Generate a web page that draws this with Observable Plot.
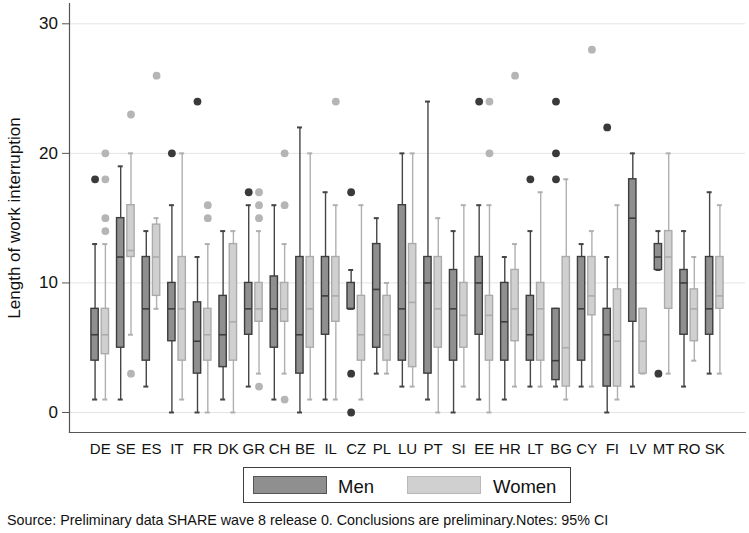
<!DOCTYPE html>
<html>
<head>
<meta charset="utf-8">
<script src="https://cdn.jsdelivr.net/npm/d3@7"></script>
<script src="https://cdn.jsdelivr.net/npm/@observablehq/plot@0.6"></script>
<style>
  html, body { margin: 0; padding: 0; background: #fff; }
  #wrap { position: relative; width: 749px; height: 533px; font-family: "Liberation Sans", Arial, Helvetica, sans-serif; color: #111; }
  #chart { position: absolute; left: 0; top: 0; }
  #legend { position: absolute; left: 243px; top: 467px; width: 328px; height: 36px; border: 1.3px solid #3e3e3e; box-sizing: border-box; }
  .sw { position: absolute; top: 8px; width: 74px; height: 18px; box-sizing: border-box; }
  .lt { position: absolute; top: 9.5px; font-size: 18.5px; line-height: 18.5px; white-space: nowrap; }
  #caption { position: absolute; left: 7px; top: 513px; font-size: 14.3px; line-height: 14.5px; white-space: nowrap; }
</style>
</head>
<body>
<div id="wrap">
  <div id="chart"></div>
  <div id="legend"></div>
  <div id="caption"></div>
</div>
<script>
// ---- data ----
const countries = ["DE","SE","ES","IT","FR","DK","GR","CH","BE","IL","CZ","PL","LU","PT","SI","EE","HR","LT","BG","CY","FI","LV","MT","RO","SK"];

// Men: lower whisker, Q1, median, Q3, upper whisker
const menLow  = [1, 1, 2, 0, 0,   1,   2, 1,    0, 1, 8, 3,   2, 1,  0, 1,  1, 2, 2,   2, 0, 2,  11, 2, 3];
const menQ1   = [4, 5, 4, 5.5, 3, 3.5, 6, 5,    3, 6, 8, 5,   4, 3,  4, 6,  4, 4, 2.5, 4, 2, 7,  11, 6, 6];
const menMed  = [6, 12, 8, 8, 5.5, 6,  8, 8,    6, 9, 8, 9.5, 8, 10, 8, 10, 7, 6, 4,   8, 6, 15, 12, 10, 8];
const menQ3   = [8, 15, 12, 10, 8.5, 9, 10, 10.5, 12, 12, 10, 13, 16, 12, 11, 12, 10, 9, 8, 12, 8, 18, 13, 11, 12];
const menHigh = [13, 19, 14, 16, 12, 14, 16, 16, 22, 17, 11, 15, 20, 24, 14, 16, 12, 14, 8, 13, 12, 20, 14, 14, 17];
const menOutliers = [[18],[],[],[20],[24],[],[17],[],[],[],[17,3,0],[],[],[],[],[24],[],[18],[24,20,18],[],[22],[],[3],[],[]];

// Women: lower whisker, Q1, median, Q3, upper whisker
const womenLow  = [1, 6, 8, 1, 0, 0, 3, 3, 1, 1, 1, 3, 2, 0, 2, 0, 2, 2, 1, 2, 1, 3, 3, 4, 3];
const womenQ1   = [4.5, 12, 9, 4, 4, 4, 7, 7, 5, 7, 4, 4, 3.5, 5, 5, 4, 5.5, 4, 2, 7.5, 2, 3, 8, 5.5, 8];
const womenMed  = [6, 12.5, 12, 8, 6, 7, 8, 8, 8, 9, 6, 6, 8.5, 8, 7.5, 7.5, 8, 8, 5, 9, 5.5, 5.5, 12, 8, 9];
const womenQ3   = [8, 16, 14.5, 12, 8, 13, 10, 10, 12, 12, 9, 9, 13, 12, 10, 9, 11, 10, 12, 12, 9.5, 8, 14, 9.5, 12];
const womenHigh = [13, 20, 15, 20, 13, 14, 14, 13, 20, 16, 16, 10, 20, 15, 16, 16, 13, 17, 18, 14, 16, 8, 20, 12, 16];
const womenOutliers = [[20,18,15,14],[23,3],[26],[],[16,15],[],[17,16,15,2],[20,16,1],[],[24],[],[],[],[],[],[24,20],[26],[],[],[28],[],[],[],[],[]];

const groups = ["Men", "Women"];
const yTicks = [0, 10, 20, 30];
const yLabel = "Length of work interruption";
const captionText = "Source: Preliminary data SHARE wave 8 release 0. Conclusions are preliminary.Notes: 95% CI";

// ---- build tables ----
const men = countries.map((c, i) => ({country: c, low: menLow[i], q1: menQ1[i], med: menMed[i], q3: menQ3[i], high: menHigh[i]}));
const women = countries.map((c, i) => ({country: c, low: womenLow[i], q1: womenQ1[i], med: womenMed[i], q3: womenQ3[i], high: womenHigh[i]}));
const menOut = countries.flatMap((c, i) => menOutliers[i].map(v => ({country: c, value: v})));
const womenOut = countries.flatMap((c, i) => womenOutliers[i].map(v => ({country: c, value: v})));

// ---- styles ----
const style = {
  Men:   {fill: "#8f8f8f", stroke: "#3d3d3d", whisker: "#454545", dot: "#3a3a3a", dx: -5.15, boxL: 4.0, boxR: 14.3, capL: 5.2, capR: 15.4},
  Women: {fill: "#d0d0d0", stroke: "#ababab", whisker: "#b0b0b0", dot: "#b5b5b5", dx: 5.15, boxL: 14.3, boxR: 4.0, capL: 15.4, capR: 5.2}
};

function boxMarks(data, out, s) {
  return [
    Plot.ruleX(data, {x: "country", y1: "low", y2: "high", dx: s.dx, stroke: s.whisker, strokeWidth: 1.4}),
    Plot.tickY(data, {x: "country", y: "high", insetLeft: s.capL, insetRight: s.capR, stroke: s.whisker, strokeWidth: 2}),
    Plot.tickY(data, {x: "country", y: "low", insetLeft: s.capL, insetRight: s.capR, stroke: s.whisker, strokeWidth: 2}),
    Plot.barY(data, {x: "country", y1: "q1", y2: "q3", insetLeft: s.boxL, insetRight: s.boxR, fill: s.fill, stroke: s.stroke, strokeWidth: 1.4}),
    Plot.tickY(data, {x: "country", y: "med", insetLeft: s.boxL, insetRight: s.boxR, stroke: s.stroke, strokeWidth: 1.6}),
    Plot.dot(out, {x: "country", y: "value", dx: s.dx, r: 3.9, fill: s.dot, stroke: "none"})
  ];
}

const chart = Plot.plot({
  width: 749,
  height: 460,
  marginTop: 3,
  marginBottom: 28,
  marginLeft: 69,
  marginRight: 4,
  style: {fontFamily: "'Liberation Sans', Arial, Helvetica, sans-serif", color: "#111", background: "#fff"},
  x: {type: "band", domain: countries, paddingInner: 0, paddingOuter: 0.7, round: false, label: null},
  y: {domain: [-1.544, 31.567], label: null},
  marks: [
    Plot.gridY(yTicks, {stroke: "#e4e4e4", strokeOpacity: 1, strokeWidth: 1}),
    Plot.axisY(yTicks, {tickSize: 7, tickPadding: 4.5, fontSize: 17, stroke: "#555", label: yLabel, labelAnchor: "center", labelArrow: "none", labelOffset: 62}),
    Plot.axisX({tickSize: 0, tickPadding: 11, fontSize: 15, fontFamily: "'Liberation Sans Narrow', 'Liberation Sans', Arial, sans-serif", label: null}),
    Plot.frame({anchor: "left", stroke: "#555", strokeWidth: 1.2}),
    Plot.frame({anchor: "bottom", stroke: "#555", strokeWidth: 1.2}),
    ...boxMarks(men, menOut, style.Men),
    ...boxMarks(women, womenOut, style.Women)
  ]
});
document.getElementById("chart").appendChild(chart);

// ---- legend ----
const legend = document.getElementById("legend");
const legendPos = {Men: {sw: 9, tx: 94}, Women: {sw: 162.5, tx: 249}};
groups.forEach(g => {
  const sw = document.createElement("div");
  sw.className = "sw";
  sw.style.left = legendPos[g].sw + "px";
  sw.style.background = style[g].fill;
  sw.style.border = "1.5px solid " + (g === "Men" ? "#555" : "#b8b8b8");
  legend.appendChild(sw);
  const t = document.createElement("span");
  t.className = "lt";
  t.style.left = legendPos[g].tx + "px";
  t.textContent = g;
  legend.appendChild(t);
});
document.getElementById("caption").textContent = captionText;
</script>
</body>
</html>
